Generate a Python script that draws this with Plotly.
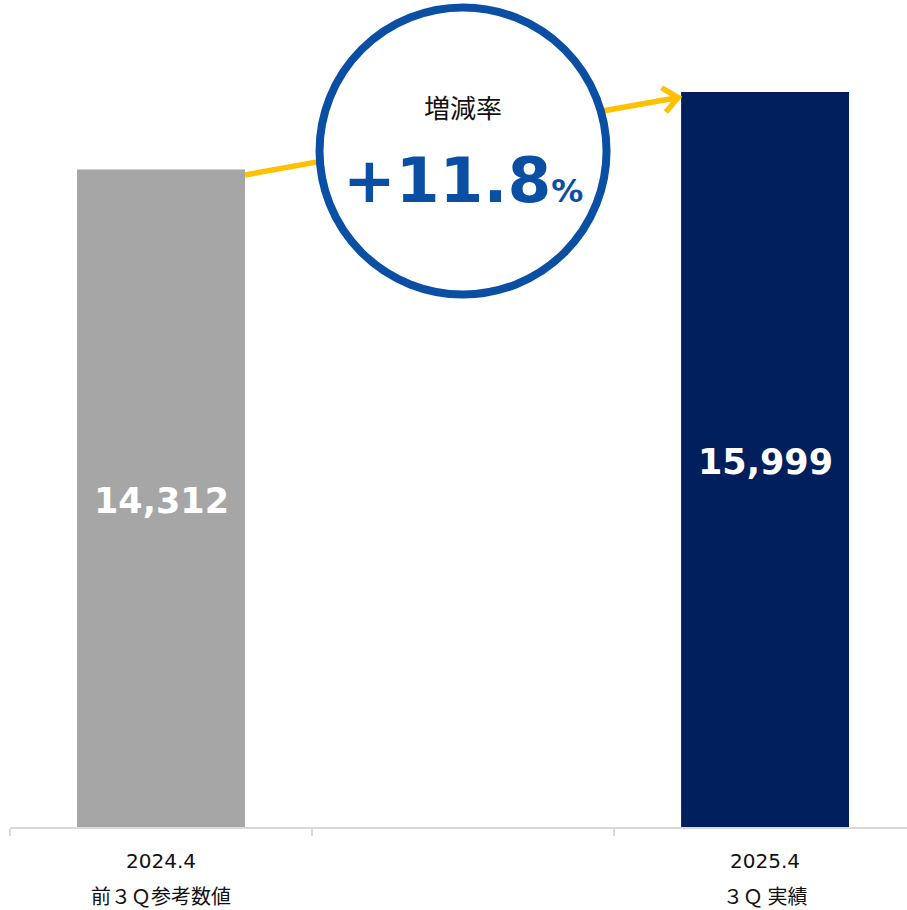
import math
import plotly.graph_objects as go

# --- data -------------------------------------------------------------
periods = ["2024.4", "2025.4"]
period_notes = ["前３Ｑ参考数値", "３Ｑ 実績"]
values = [14312, 15999]
bar_colors = ["#A6A6A6", "#001F5C"]
slots = [0, 2]            # the middle slot is left empty for the growth badge
rate_title = "増減率"

growth = (values[1] / values[0] - 1) * 100

# --- layout constants -------------------------------------------------
W, H = 907, 910
M_L, M_R, M_T, M_B = 10, 0, 0, 83
Y_MAX = 18000
X_RANGE = [-0.5, 2.47]
BAR_W = 0.556

plot_w = W - M_L - M_R
plot_h = H - M_T - M_B
px_x = plot_w / (X_RANGE[1] - X_RANGE[0])
px_y = plot_h / Y_MAX

BLUE = "#0A4FA3"
YELLOW = "#FFC000"
AXIS_GREY = "#D9D9D9"
LATIN = "DejaVu Sans"
CJK = "Noto Sans CJK JP"

fig = go.Figure()
fig.add_trace(go.Bar(
    x=slots,
    y=values,
    width=BAR_W,
    marker=dict(color=bar_colors, line=dict(width=0)),
    hoverinfo="skip",
))

# --- growth arrow from the first bar top to the second -----------------
drop = 5.5 / px_y
x_start = slots[0] + BAR_W / 2
y_start = values[0] - drop
x_tip = slots[1] - BAR_W / 2 - 3 / px_x
y_tip = values[1] - drop

theta = math.atan2((y_tip - y_start) * px_y, (x_tip - x_start) * px_x)
arm = 19
spread = math.radians(40)
a1 = (arm * math.cos(theta + math.pi - spread), arm * math.sin(theta + math.pi - spread))
a2 = (arm * math.cos(theta + math.pi + spread), arm * math.sin(theta + math.pi + spread))

shapes = [
    dict(type="line", xref="x", yref="y", x0=x_start, y0=y_start, x1=x_tip, y1=y_tip,
         line=dict(color=YELLOW, width=5.5), layer="above"),
    dict(type="path", xref="x", yref="y", xsizemode="pixel", ysizemode="pixel",
         xanchor=x_tip, yanchor=y_tip,
         path=f"M{a1[0]:.2f},{a1[1]:.2f} L0,0 L{a2[0]:.2f},{a2[1]:.2f}",
         line=dict(color=YELLOW, width=5.5), layer="above"),
]

# --- growth badge ------------------------------------------------------
R = 143.5
badge_cy = 1 - 151 / plot_h
shapes.append(dict(
    type="circle", xref="x", yref="paper", xsizemode="pixel", ysizemode="pixel",
    xanchor=1, yanchor=badge_cy, x0=-R, x1=R, y0=-R, y1=R,
    fillcolor="white", line=dict(color=BLUE, width=8), layer="above",
))

annotations = [
    dict(x=1, xref="x", y=1 - 107 / plot_h, yref="paper", yanchor="middle",
         text=rate_title, showarrow=False,
         font=dict(family=CJK, size=26, color="#111111")),
    dict(x=1, xref="x", y=1 - 181 / plot_h, yref="paper", yanchor="middle",
         text=f"+{growth:.1f}<span style='font-size:32px'>%</span>", showarrow=False,
         font=dict(family=LATIN, size=63, color=BLUE, weight="bold")),
]

# --- value labels centred in each bar --------------------------------------
for s, v in zip(slots, values):
    annotations.append(dict(x=s, xref="x", y=v / 2, yref="y", yanchor="middle",
                            yshift=-3, text=f"{v:,}", showarrow=False,
                            font=dict(family=LATIN, size=35, color="white", weight="bold")))

# --- category labels under the axis --------------------------------------
for s, p, n in zip(slots, periods, period_notes):
    annotations.append(dict(x=s, xref="x", y=0, yref="paper", yanchor="middle",
                            yshift=-34, text=p, showarrow=False,
                            font=dict(family=LATIN, size=20, color="#111111")))
    annotations.append(dict(x=s, xref="x", y=0, yref="paper", yanchor="middle",
                            yshift=-68, text=n, showarrow=False,
                            font=dict(family=CJK, size=20, color="#111111")))

fig.update_layout(
    width=W, height=H, autosize=False,
    margin=dict(l=M_L, r=M_R, t=M_T, b=M_B, pad=0),
    paper_bgcolor="white", plot_bgcolor="white",
    showlegend=False,
    shapes=shapes,
    annotations=annotations,
    xaxis=dict(
        range=X_RANGE, showgrid=False, zeroline=False,
        showline=True, linecolor=AXIS_GREY, linewidth=2,
        tickvals=[-0.5, 0.5, 1.5, 2.5], ticks="outside", ticklen=7,
        tickcolor=AXIS_GREY, tickwidth=1.5, showticklabels=False, fixedrange=True,
    ),
    yaxis=dict(
        range=[0, Y_MAX], visible=False, showgrid=False, zeroline=False, fixedrange=True,
    ),
)

fig.write_html("out.html")
